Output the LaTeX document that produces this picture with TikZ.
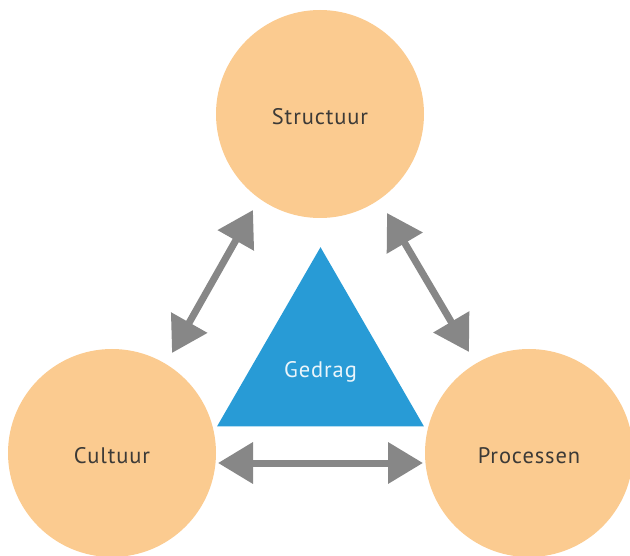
\documentclass[tikz,border=0pt]{standalone}
\usepackage{fontspec}
\setmainfont{PT Sans}[LetterSpace=4]
\usetikzlibrary{arrows.meta,shapes.geometric,calc}
\definecolor{perzik}{RGB}{251,203,144}
\definecolor{gedragblauw}{RGB}{40,155,214}
\definecolor{pijlgrijs}{RGB}{135,135,135}
\definecolor{tekstgrijs}{RGB}{60,58,55}
\begin{document}
\begin{tikzpicture}[x=1pt,y=-1pt,
    bol/.style={circle,fill=perzik,minimum size=208pt,inner sep=0pt,
        text=tekstgrijs,font=\fontsize{22.5}{26}\selectfont,
        text height=22pt,text depth=0pt},
    driehoek/.style={regular polygon,regular polygon sides=3,fill=gedragblauw,
        minimum size=239pt,inner sep=0pt,text={white!90!gedragblauw},
        font=\fontsize{22.5}{26}\selectfont,text height=22pt,text depth=0pt},
    pijl/.style={draw=pijlgrijs,line width=7pt,
        {Triangle[length=35pt,width=40pt]}-{Triangle[length=35pt,width=40pt]}}]
    \useasboundingbox (0,0) rectangle (630,556);
    % Drie bollen
    \node[bol] (structuur) at (320,114) {Structuur};
    \node[bol] (cultuur) at (112,453) {Cultuur};
    \node[bol] (processen) at (529,453) {Processen};
    % Gedrag in het midden
    \node[driehoek] (gedrag) at (320.5,366.7) {Gedrag};
    % Uiteinden van de pijlen
    \coordinate (s-links) at ($(structuur)+(-67,96)$);
    \coordinate (c-boven) at ($(cultuur)+(60,-100)$);
    \coordinate (s-rechts) at ($(structuur)+(67,99)$);
    \coordinate (p-boven) at ($(processen)+(-60,-101)$);
    \coordinate (c-rechts) at ($(cultuur)+(106,10)$);
    \coordinate (p-links) at ($(processen)+(-106,10)$);
    \draw[pijl] (c-boven) -- (s-links);
    \draw[pijl] (s-rechts) -- (p-boven);
    \draw[pijl] (c-rechts) -- (p-links);
\end{tikzpicture}
\end{document}
